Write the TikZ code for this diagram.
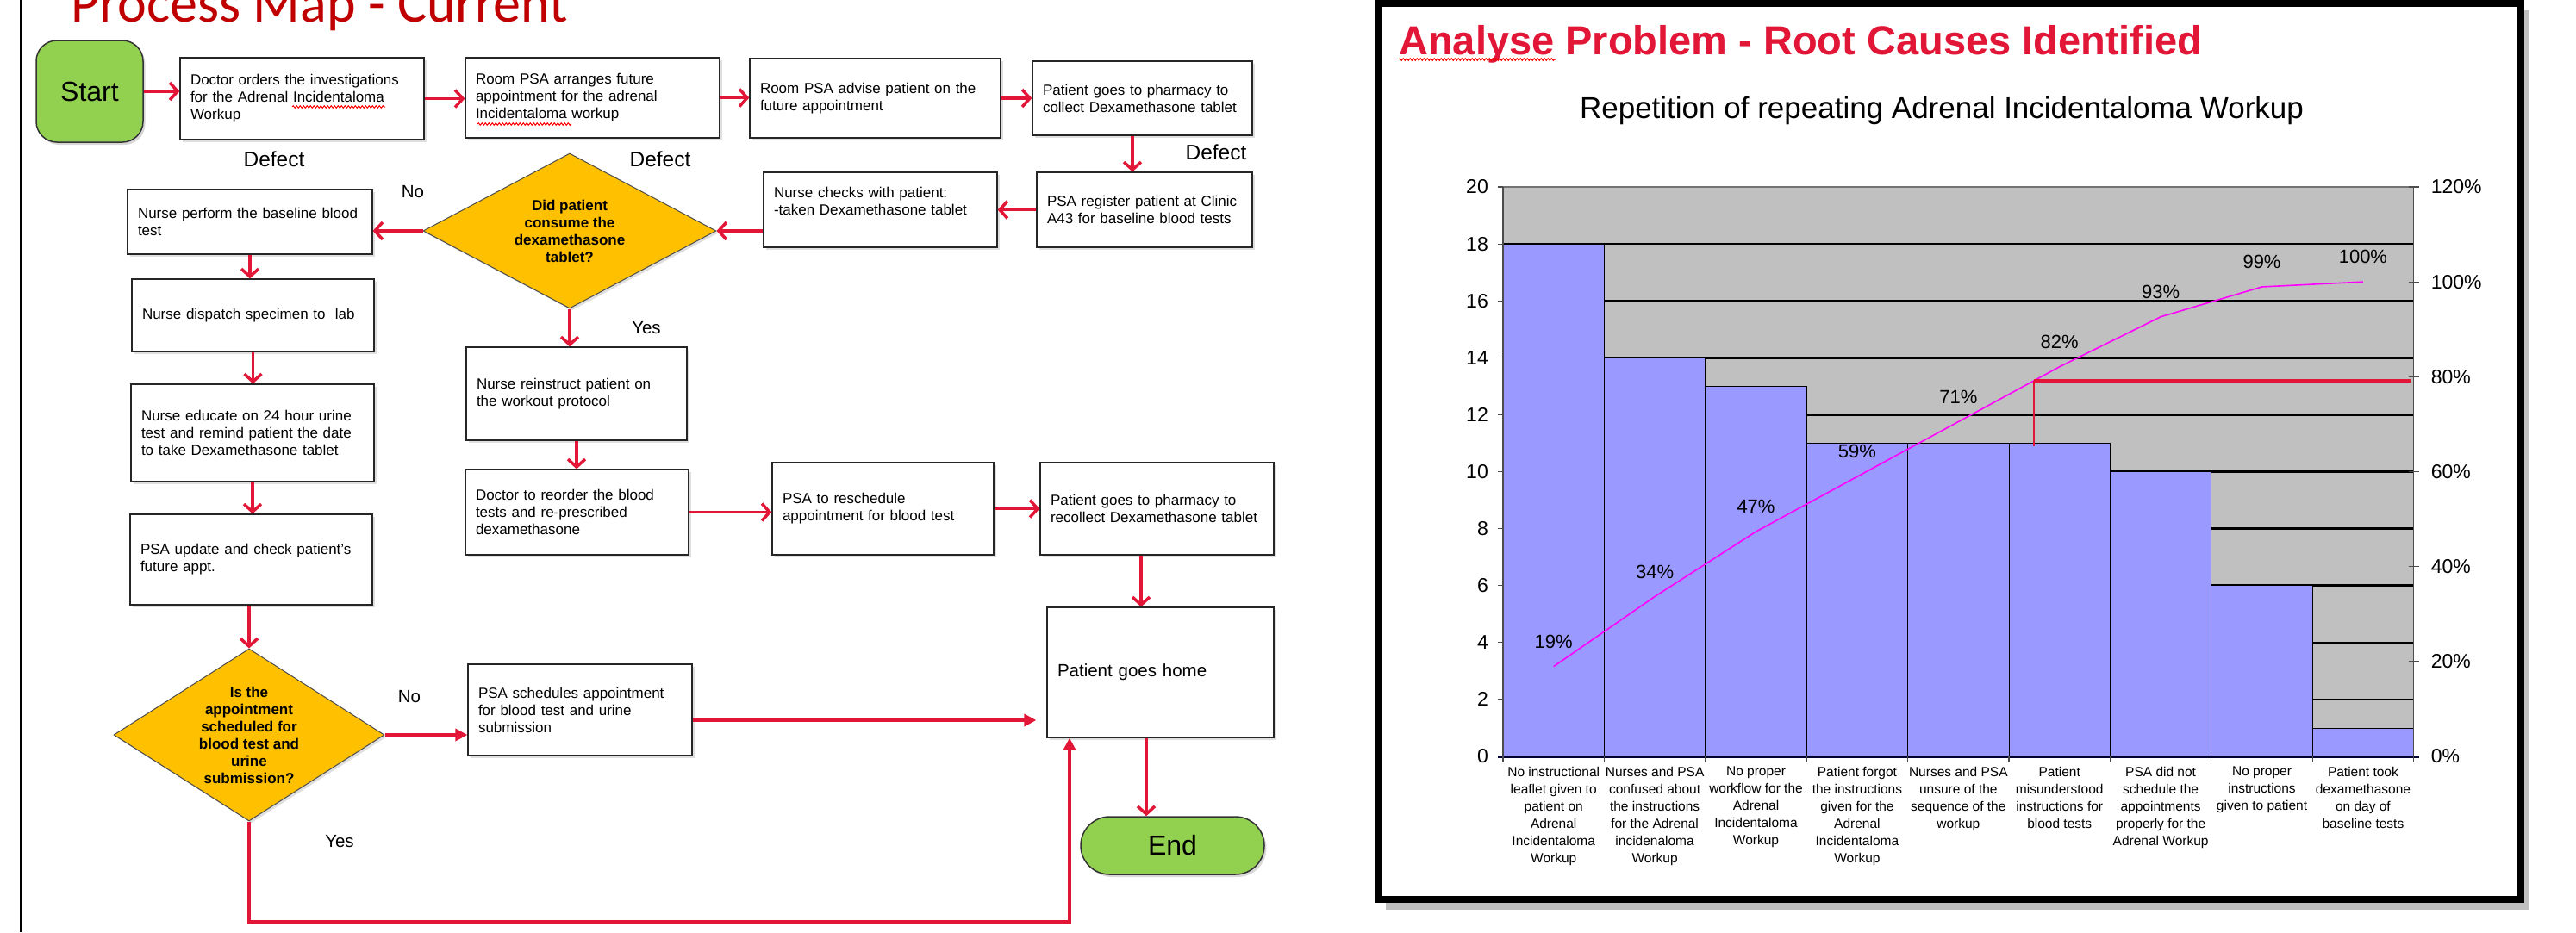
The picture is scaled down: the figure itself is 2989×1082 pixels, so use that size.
\documentclass[tikz,border=0pt]{standalone}
\usepackage{fontspec}
\setmainfont{Liberation Sans}
\newfontfamily\calibri{Carlito}
\usetikzlibrary{shapes.geometric,shapes.misc,arrows.meta,shadows,decorations.pathmorphing}
\definecolor{arrowred}{RGB}{226,23,55}
\definecolor{darkred}{RGB}{192,0,0}
\definecolor{gold}{RGB}{255,192,0}
\definecolor{lgreen}{RGB}{146,208,80}
\definecolor{barblue}{RGB}{153,153,255}
\definecolor{plotgray}{RGB}{192,192,192}
\definecolor{paretomag}{RGB}{255,0,255}
\begin{document}
\begin{tikzpicture}[x=1pt,y=-1pt,
  box/.style={draw=black!85, line width=1.2pt, fill=white, inner xsep=12pt, inner ysep=0pt,
    align=left, font=\fontsize{17}{20}\selectfont,
    drop shadow={shadow xshift=2.5pt,shadow yshift=-2.5pt,opacity=0.25}},
  decision/.style={diamond, draw=black!70, line width=1pt, fill=gold, inner sep=0pt,
    align=center, font=\bfseries\fontsize{17}{20}\selectfont,
    drop shadow={shadow xshift=2.5pt,shadow yshift=-2.5pt,opacity=0.25}},
  term/.style={draw=black!80, line width=1.5pt, fill=lgreen, inner sep=0pt,
    font=\fontsize{32}{36}\selectfont,
    drop shadow={shadow xshift=2.5pt,shadow yshift=-3pt,opacity=0.3}},
  flow/.style={draw=arrowred, line width=3.5pt, -{Straight Barb[length=9pt,width=20pt]}},
  flowt/.style={draw=arrowred, line width=4pt, -{Triangle[length=14pt,width=14pt]}},
  squig/.style={draw=red, line width=1pt, decorate, decoration={snake, amplitude=1.3pt, segment length=4pt}},
  deflbl/.style={anchor=base, inner sep=0pt, font=\fontsize{24.5}{28}\selectfont},
  lbl/.style={anchor=base, inner sep=0pt, font=\fontsize{20.5}{24}\selectfont},
  pct/.style={inner sep=0pt, font=\fontsize{22}{24}\selectfont},
  axl/.style={inner sep=0pt, font=\fontsize{23}{26}\selectfont},
  catl/.style={anchor=north, align=center, inner sep=0pt, font=\fontsize{15.5}{20}\selectfont}
]
\useasboundingbox (0,0) rectangle (2989,1082);
\fill[white] (0,0) rectangle (2989,1082);

% ---------------- Left panel: process map ----------------
\node[anchor=base west, text=darkred, font=\calibri\fontsize{64}{70}\selectfont, inner sep=0pt] (ttl) at (82,25) {Process Map - Current};
\draw[line width=2.5pt] (24,0) -- (24,1082);

\node[term, rectangle, rounded corners=24pt, minimum width=124pt, minimum height=118pt] (st) at (104,106) {Start};

\node[box, text width=259pt, minimum height=95pt] (doc) at (350.5,114.5)
  {Doctor orders the investigations\\for the Adrenal Incidentaloma\\Workup};
\node[box, text width=271pt, minimum height=93pt] (room) at (687.5,113.5)
  {Room PSA arranges future\\appointment for the adrenal\\Incidentaloma workup};
\node[box, text width=267pt, minimum height=92pt] (advise) at (1015.5,114)
  {Room PSA advise patient on the\\future appointment};
\node[box, text width=231pt, minimum height=86pt] (pharm) at (1325.5,114)
  {Patient goes to pharmacy to\\collect Dexamethasone tablet};
\node[box, text width=226pt, minimum height=87pt] (reg) at (1328,243.5)
  {PSA register patient at Clinic\\A43 for baseline blood tests};
\node[box, text width=247pt, minimum height=87pt] (check) at (1021.5,243.5)
  {Nurse checks with patient:\\-taken Dexamethasone tablet\\~};
\node[decision, minimum width=340pt, minimum height=180pt, aspect=1.89] (d1) at (661,268)
  {Did patient\\consume the\\dexamethasone\\tablet?};
\node[box, text width=260pt, minimum height=75pt] (perf) at (290,257.5)
  {Nurse perform the baseline blood\\test};
\node[box, text width=257pt, minimum height=84pt] (disp) at (293.5,366)
  {Nurse dispatch specimen to\ \ lab};
\node[box, text width=258pt, minimum height=113pt] (edu) at (293,502.5)
  {Nurse educate on 24 hour urine\\test and remind patient the date\\to take Dexamethasone tablet};
\node[box, text width=257pt, minimum height=105pt] (upd) at (291.5,649.5)
  {PSA update and check patient’s\\future appt.};
\node[decision, minimum width=314pt, minimum height=200pt, aspect=1.57] (d2) at (289,853)
  {Is the\\appointment\\scheduled for\\blood test and\\urine\\submission?};
\node[box, text width=236pt, minimum height=106pt] (sched) at (673,824)
  {PSA schedules appointment\\for blood test and urine\\submission};
\node[box, text width=232pt, minimum height=108pt] (reinst) at (669,457)
  {Nurse reinstruct patient on\\the workout protocol};
\node[box, text width=235pt, minimum height=99pt] (reord) at (669.5,594.5)
  {Doctor to reorder the blood\\tests and re-prescribed\\dexamethasone};
\node[box, text width=233pt, minimum height=107pt] (resch) at (1024.5,590.5)
  {PSA to reschedule\\appointment for blood test};
\node[box, text width=247pt, minimum height=107pt] (recol) at (1342.5,590.5)
  {Patient goes to pharmacy to\\recollect Dexamethasone tablet};
\node[box, text width=239pt, minimum height=151pt, font=\fontsize{20.5}{24}\selectfont] (home) at (1346.5,780.5)
  {Patient goes home};
\node[term, rounded rectangle, minimum width=213pt, minimum height=67pt] (fin) at (1360.5,981.5) {End};

% spell-check squiggles
\draw[squig] (339,124) -- (447,124);
\draw[squig] (554,144) -- (663,144);

\node[deflbl] (df1) at (318,193) {Defect};
\node[deflbl] (df2) at (766,193) {Defect};
\node[deflbl] (df3) at (1411,185) {Defect};
\node[lbl] (no1) at (479,229) {No};
\node[lbl] (no2) at (475,815) {No};
\node[lbl] (yes1) at (750,387) {Yes};
\node[lbl] (yes2) at (394,983) {Yes};

\coordinate (cx1314) at (1314,0);
\coordinate (cx1241) at (1241,0);
\coordinate (cx1324) at (1324,0);
\coordinate (cx1330) at (1330,0);
\coordinate (cy836) at (0,836);
\coordinate (cy1070) at (0,1070);
\coordinate (hw) at ([xshift=-12pt]home.west);

\draw[flow] (st.east) -- (st.east -| doc.west);
\draw[flow] (doc.east) -- (doc.east -| room.west);
\draw[flow] (room.east) -- (room.east -| advise.west);
\draw[flow] (advise.east) -- (advise.east -| pharm.west);
\draw[flow] (pharm.south -| cx1314) -- (reg.north -| cx1314);
\draw[flow] (reg.west) -- (reg.west -| check.east);
\draw[flow] (check.west |- d1.east) -- (d1.east);
\draw[flow] (d1.west) -- (d1.west -| perf.east);
\draw[flow] (d1.south) -- (d1.south |- reinst.north);
\draw[flow] (perf.south) -- (perf.south |- disp.north);
\draw[flow] (disp.south) -- (disp.south |- edu.north);
\draw[flow] (edu.south) -- (edu.south |- upd.north);
\draw[flow] (upd.south -| d2.north) -- (d2.north);
\draw[flowt] (d2.east) -- (d2.east -| sched.west);
\draw[flowt] (sched.east |- cy836) -- (hw |- cy836);
\draw[flowt] (d2.south) -- (d2.south |- cy1070) -| (home.south -| cx1241);
\draw[flow] (reinst.south) -- (reinst.south |- reord.north);
\draw[flow] (reord.east) -- (reord.east -| resch.west);
\draw[flow] (resch.east) -- (resch.east -| recol.west);
\draw[flow] (recol.south -| cx1324) -- (home.north -| cx1324);
\draw[flow] (home.south -| cx1330) -- (fin.north -| cx1330);

% ---------------- Right panel: Pareto chart ----------------
\fill[black!25] (1608,12) rectangle (2935,1056);
\draw[line width=8pt, fill=white] (1600,3.5) rectangle (2925,1044);
\node[anchor=base west, text=arrowred, font=\bfseries\fontsize{47}{52}\selectfont, inner sep=0pt] (ctitle) at (1623,63)
  {Analyse Problem - Root Causes Identified};
\draw[squig] (1623,69) -- (1805,69);
\node[anchor=base, inner sep=0pt, font=\fontsize{35}{40}\selectfont] (csub) at (2253,137)
  {Repetition of repeating Adrenal Incidentaloma Workup};

\begin{scope}[shift={(1744pt,-878pt)}, x=117.4pt, y=33.05pt]
  \fill[plotgray] (0,0) rectangle (9,20);
  \foreach \v in {2,4,...,18} \draw[line width=2.5pt] (0,\v) -- (9,\v);
  \draw[black!55, line width=1.5pt] (0,20) -- (9,20);
  \foreach \i/\v in {0/18,1/14,2/13,3/11,4/11,5/11,6/10,7/6,8/1}
    \filldraw[fill=barblue, draw=black, line width=0.9pt] (\i,0) rectangle (\i+1,\v);
  \draw[black!70, line width=1.2pt] (0,0) -- (0,20);
  \draw[black!70, line width=1.2pt] (9,0) -- (9,20);
  \foreach \v in {0,2,...,20} {
    \draw[black!70, line width=1.2pt] (0,\v) -- ++(-6pt,0);
    \node[axl, anchor=east] at ([xshift=-17pt]0,\v) {\v};
  }
  \foreach \p in {0,20,...,120} {
    \draw[black!70, line width=1.2pt] ([xshift=-6pt]9,\p/6) -- ([xshift=6pt]9,\p/6);
    \node[axl, anchor=west] at ([xshift=20pt]9,\p/6) {\p\%};
  }
  \draw[line width=3pt, black!80!blue] (-0.05,0) -- (9.05,0);
  \foreach \i in {0,...,9} \draw[black!70, line width=1.2pt] (\i,0) -- ++(0,-7pt);
  \draw[paretomag, line width=1.6pt] (0.5,3.158) -- (1.5,5.614) -- (2.5,7.895) -- (3.5,9.825)
    -- (4.5,11.754) -- (5.5,13.684) -- (6.5,15.439) -- (7.5,16.491) -- (8.5,16.667);
  \foreach \x/\y/\t in {0.5/3.158/19,1.5/5.614/34,2.5/7.895/47,3.5/9.825/59,4.5/11.754/71,
    5.5/13.684/82,6.5/15.439/93,7.5/16.491/99,8.5/16.667/100}
    \node[pct] at ([yshift=29pt]\x,\y) {\t\%};
  \draw[arrowred, line width=4pt] (5.247,13.19) -- (8.98,13.19);
  \draw[arrowred, line width=1.5pt] (5.247,13.19) -- (5.247,10.9);
  \node[catl] (c1) at (0.5,-0.36) {No instructional\\leaflet given to\\patient on\\Adrenal\\Incidentaloma\\Workup};
  \node[catl] (c2) at (1.5,-0.36) {Nurses and PSA\\confused about\\the instructions\\for the Adrenal\\incidenaloma\\Workup};
  \node[catl] (c3) at (2.5,-0.36) {No proper\\workflow for the\\Adrenal\\Incidentaloma\\Workup};
  \node[catl] (c4) at (3.5,-0.36) {Patient forgot\\the instructions\\given for the\\Adrenal\\Incidentaloma\\Workup};
  \node[catl] (c5) at (4.5,-0.36) {Nurses and PSA\\unsure of the\\sequence of the\\workup};
  \node[catl] (c6) at (5.5,-0.36) {Patient\\misunderstood\\instructions for\\blood tests};
  \node[catl] (c7) at (6.5,-0.36) {PSA did not\\schedule the\\appointments\\properly for the\\Adrenal Workup};
  \node[catl] (c8) at (7.5,-0.36) {No proper\\instructions\\given to patient};
  \node[catl] (c9) at (8.5,-0.36) {Patient took\\dexamethasone\\on day of\\baseline tests};
\end{scope}
\end{tikzpicture}
\end{document}
